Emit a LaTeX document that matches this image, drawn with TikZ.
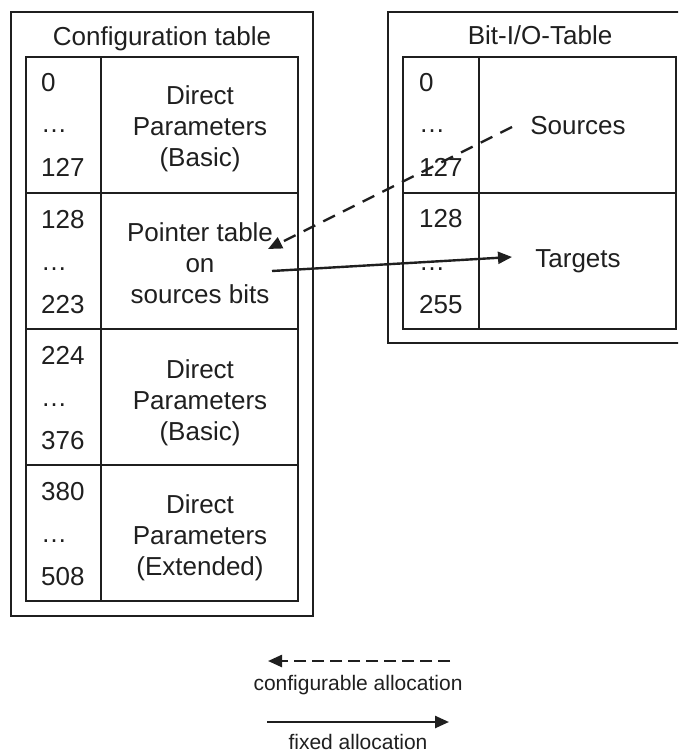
\documentclass[tikz,border=0pt]{standalone}
\usepackage{fontspec}
\setmainfont{Liberation Sans}
\usetikzlibrary{arrows.meta}
\begin{document}
\begin{tikzpicture}[x=1pt,y=-1pt,
  frame/.style={draw=black!88,line width=2.8pt},
  grid/.style={draw=black!88,line width=1.7pt},
  lbl/.style={anchor=base,font=\fontsize{26}{31}\selectfont,inner sep=0pt,align=center,text=black!88},
  num/.style={anchor=base west,font=\fontsize{26}{31}\selectfont,inner sep=0pt,text=black!88},
  small/.style={anchor=base,font=\fontsize{21}{25}\selectfont,inner sep=0pt,text=black!88},
  link/.style={line width=2.4pt,draw=black!88,-{Triangle[length=14pt,width=12pt]}},
  dlink/.style={link,dash pattern=on 13pt off 9pt},
  legdash/.style={link,dash pattern=on 12pt off 6pt}]
\useasboundingbox (0,0) rectangle (678,751);
\clip (0,0) rectangle (678,751);

% ---- Configuration table ----
\draw[frame] (11,12) rectangle (313,616);
\draw[grid] (26,57) rectangle (298,601);
\draw[grid] (101,57) -- (101,601);
\foreach \y in {193,329,465} \draw[grid] (26,\y) -- (298,\y);
\node[lbl] (cfgtitle) at (162,46) {Configuration table};

\node[num] (c0)   at (41,92)  {0};
\node[num] (c0d)  at (41,133) {…};
\node[num] (c127) at (41,177) {127};
\node[num] (c128) at (41,228) {128};
\node[num] (c128d) at (41,270) {…};
\node[num] (c223) at (41,313) {223};
\node[num] (c224) at (41,364) {224};
\node[num] (c224d) at (41,406) {…};
\node[num] (c376) at (41,449) {376};
\node[num] (c380) at (41,500) {380};
\node[num] (c380d) at (41,542) {…};
\node[num] (c508) at (41,585) {508};

% multi-line labels: base anchor sits on the last line
\node[lbl] (basic1) at (200,167) {Direct\\Parameters\\(Basic)};
\node[lbl] (ptr)    at (200,303) {Pointer table\\on\\sources bits};
\node[lbl] (basic2) at (200,440) {Direct\\Parameters\\(Basic)};
\node[lbl] (ext)    at (200,575) {Direct\\Parameters\\(Extended)};

% ---- Bit-I/O-Table ----
\draw[frame] (388,12) rectangle (700,343);
\draw[grid] (403,57) rectangle (676,329);
\draw[grid] (479,57) -- (479,329);
\draw[grid] (403,193) -- (676,193);
\node[lbl] (biotitle) at (540,45) {Bit-I/O-Table};

\node[num] (b0)   at (419,92)  {0};
\node[num] (b0d)  at (419,133) {…};
\node[num] (b127) at (419,177) {127};
\node[num] (b128) at (419,227) {128};
\node[num] (b128d) at (419,270) {…};
\node[num] (b255) at (419,313) {255};

\node[lbl] (src) at (578,135) {Sources};
\node[lbl] (tgt) at (578,267) {Targets};

% ---- allocations ----
\coordinate (srcTail) at (512,127);
\coordinate (ptrHead) at (268,249);
\coordinate (ptrTail) at (272,271);
\coordinate (tgtHead) at (512,257);
\draw[dlink] (srcTail) -- (ptrHead);
\draw[link] (ptrTail) -- (tgtHead);

% ---- legend ----
\coordinate (cfgA) at (450,661);
\coordinate (cfgB) at (268,661);
\coordinate (fixA) at (267,722);
\coordinate (fixB) at (449,722);
\draw[legdash] (cfgA) -- (cfgB);
\draw[link] (fixA) -- (fixB);
\node[small] (cfglbl) at (358,690) {configurable allocation};
\node[small] (fixlbl) at (358,749) {fixed allocation};
\end{tikzpicture}
\end{document}
